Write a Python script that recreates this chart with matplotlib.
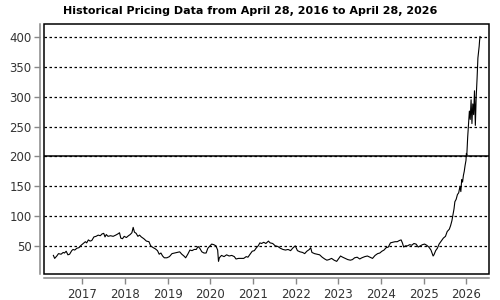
import matplotlib
matplotlib.use("Agg")
import matplotlib.pyplot as plt
from matplotlib.patches import Rectangle

# decimal year, closing price
years = [
    2016.32, 2016.35, 2016.40, 2016.44, 2016.50, 2016.55, 2016.58, 2016.62, 2016.66, 2016.70,
    2016.75, 2016.78, 2016.82, 2016.87, 2016.92, 2016.97, 2017.02, 2017.07, 2017.10, 2017.14,
    2017.18, 2017.22, 2017.27, 2017.32, 2017.37, 2017.42, 2017.46, 2017.50, 2017.53, 2017.56,
    2017.60, 2017.66, 2017.72, 2017.78, 2017.83, 2017.87, 2017.90, 2017.94, 2017.98, 2018.03,
    2018.08, 2018.12, 2018.16, 2018.19, 2018.22, 2018.26, 2018.30, 2018.34, 2018.38, 2018.44,
    2018.50, 2018.56, 2018.60, 2018.66, 2018.71, 2018.76, 2018.80, 2018.84, 2018.88, 2018.92,
    2018.98, 2019.04, 2019.10, 2019.16, 2019.22, 2019.28, 2019.33, 2019.38, 2019.42, 2019.47,
    2019.52, 2019.57, 2019.62, 2019.67, 2019.71, 2019.75, 2019.80, 2019.85, 2019.90, 2019.94,
    2019.99, 2020.03, 2020.08, 2020.13, 2020.17, 2020.19, 2020.21, 2020.26, 2020.32, 2020.38,
    2020.44, 2020.50, 2020.56, 2020.60, 2020.66, 2020.72, 2020.78, 2020.84, 2020.88, 2020.94,
    2020.98, 2021.03, 2021.08, 2021.12, 2021.16, 2021.20, 2021.25, 2021.30, 2021.36, 2021.40,
    2021.46, 2021.52, 2021.58, 2021.64, 2021.70, 2021.76, 2021.82, 2021.88, 2021.94, 2021.99,
    2022.04, 2022.10, 2022.16, 2022.21, 2022.26, 2022.32, 2022.35, 2022.38, 2022.44, 2022.50,
    2022.56, 2022.62, 2022.68, 2022.73, 2022.78, 2022.84, 2022.90, 2022.96, 2023.00, 2023.05,
    2023.10, 2023.16, 2023.22, 2023.28, 2023.33, 2023.38, 2023.44, 2023.50, 2023.55, 2023.62,
    2023.68, 2023.74, 2023.80, 2023.86, 2023.92, 2023.97, 2024.02, 2024.07, 2024.12, 2024.17,
    2024.22, 2024.27, 2024.33, 2024.38, 2024.43, 2024.47, 2024.50, 2024.53, 2024.57, 2024.62,
    2024.67, 2024.72, 2024.77, 2024.82, 2024.87, 2024.92, 2024.97, 2025.02, 2025.07, 2025.12,
    2025.17, 2025.22, 2025.24, 2025.28, 2025.32, 2025.36, 2025.41, 2025.46, 2025.51, 2025.55,
    2025.60, 2025.63, 2025.66, 2025.68, 2025.71, 2025.73, 2025.76, 2025.79, 2025.82, 2025.85,
    2025.87, 2025.89, 2025.91, 2025.93, 2025.95, 2025.97, 2025.99, 2026.00, 2026.01, 2026.03,
    2026.05, 2026.07, 2026.09, 2026.11, 2026.13, 2026.15, 2026.17, 2026.19, 2026.21, 2026.23,
    2026.25, 2026.26, 2026.27, 2026.28, 2026.30, 2026.31, 2026.32,
]
prices = [
    34, 29, 33, 37, 36, 39, 38, 41, 35, 36,
    42, 44, 43, 46, 47, 51, 54, 57, 55, 60,
    58, 59, 65, 66, 68, 67, 70, 71, 65, 69,
    66, 67, 66, 68, 70, 72, 63, 62, 66, 64,
    67, 69, 72, 81, 73, 71, 66, 68, 65, 62,
    58, 57, 50, 47, 45, 42, 36, 38, 33, 30,
    30, 32, 37, 38, 39, 40, 36, 33, 30, 36,
    43, 42, 44, 44, 49, 46, 40, 38, 38, 46,
    50, 53, 52, 50, 43, 24, 30, 34, 32, 35,
    33, 34, 32, 28, 29, 29, 29, 32, 31, 37,
    41, 42, 47, 50, 55, 54, 56, 54, 58, 55,
    54, 50, 49, 46, 44, 43, 44, 42, 47, 50,
    42, 40, 39, 37, 41, 44, 47, 39, 37, 36,
    35, 31, 28, 26, 27, 29, 26, 24, 28, 33,
    31, 29, 27, 26, 27, 30, 31, 28, 30, 32,
    33, 31, 29, 34, 37, 38, 41, 43, 47, 48,
    55, 56, 57, 57, 59, 60, 55, 48, 50, 50,
    52, 51, 54, 53, 48, 50, 52, 53, 51, 48,
    43, 33, 35, 42, 46, 53, 58, 63, 66, 74,
    78, 84, 92, 100, 112, 124, 128, 136, 139, 150,
    141, 161, 157, 168, 175, 185, 193, 205, 202, 232,
    254, 276, 262, 295, 255, 288, 270, 310, 252, 300,
    330, 350, 365, 372, 385, 395, 401,
]

year_ticks = [2017, 2018, 2019, 2020, 2021, 2022, 2023, 2024, 2025, 2026]
price_ticks = [50, 100, 150, 200, 250, 300, 350, 400]
title = "Historical Pricing Data from April 28, 2016 to April 28, 2026"

fig = plt.figure(figsize=(5, 3), dpi=100, facecolor="white")
ax = fig.add_axes([0.088, 0.087, 0.89, 0.833])

for p in price_ticks:
    ax.axhline(p, color="black", lw=0.9, ls=(0, (2, 2)), zorder=1)
ax.axhline(200, color="black", lw=1.1, zorder=2)

ax.plot(years, prices, color="black", lw=0.8, zorder=3)

ax.set_xlim(2016.1, 2026.53)
ax.set_ylim(3, 422)
ax.set_xticks(year_ticks)
ax.set_xticklabels([str(y) for y in year_ticks])
ax.set_yticks(price_ticks)

# gray detached axis lines, black box around plot area
for side in ["left", "bottom"]:
    ax.spines[side].set_position(("outward", 3))
    ax.spines[side].set_color("#888888")
    ax.spines[side].set_linewidth(1.1)
ax.spines["top"].set_visible(False)
ax.spines["right"].set_visible(False)
ax.add_patch(Rectangle((0, 0), 1, 1, transform=ax.transAxes, fill=False,
                       edgecolor="black", lw=1.1, clip_on=False, zorder=5))

ax.tick_params(axis="both", colors="#888888", length=4, width=1,
               labelcolor="#333333", labelsize=8.5)
ax.tick_params(axis="x", pad=3)
ax.tick_params(axis="y", pad=2)

fig.text(0.5, 0.965, title, ha="center", va="center", fontsize=8,
         fontweight="bold", color="black")

fig.savefig("out.png", dpi=100)
